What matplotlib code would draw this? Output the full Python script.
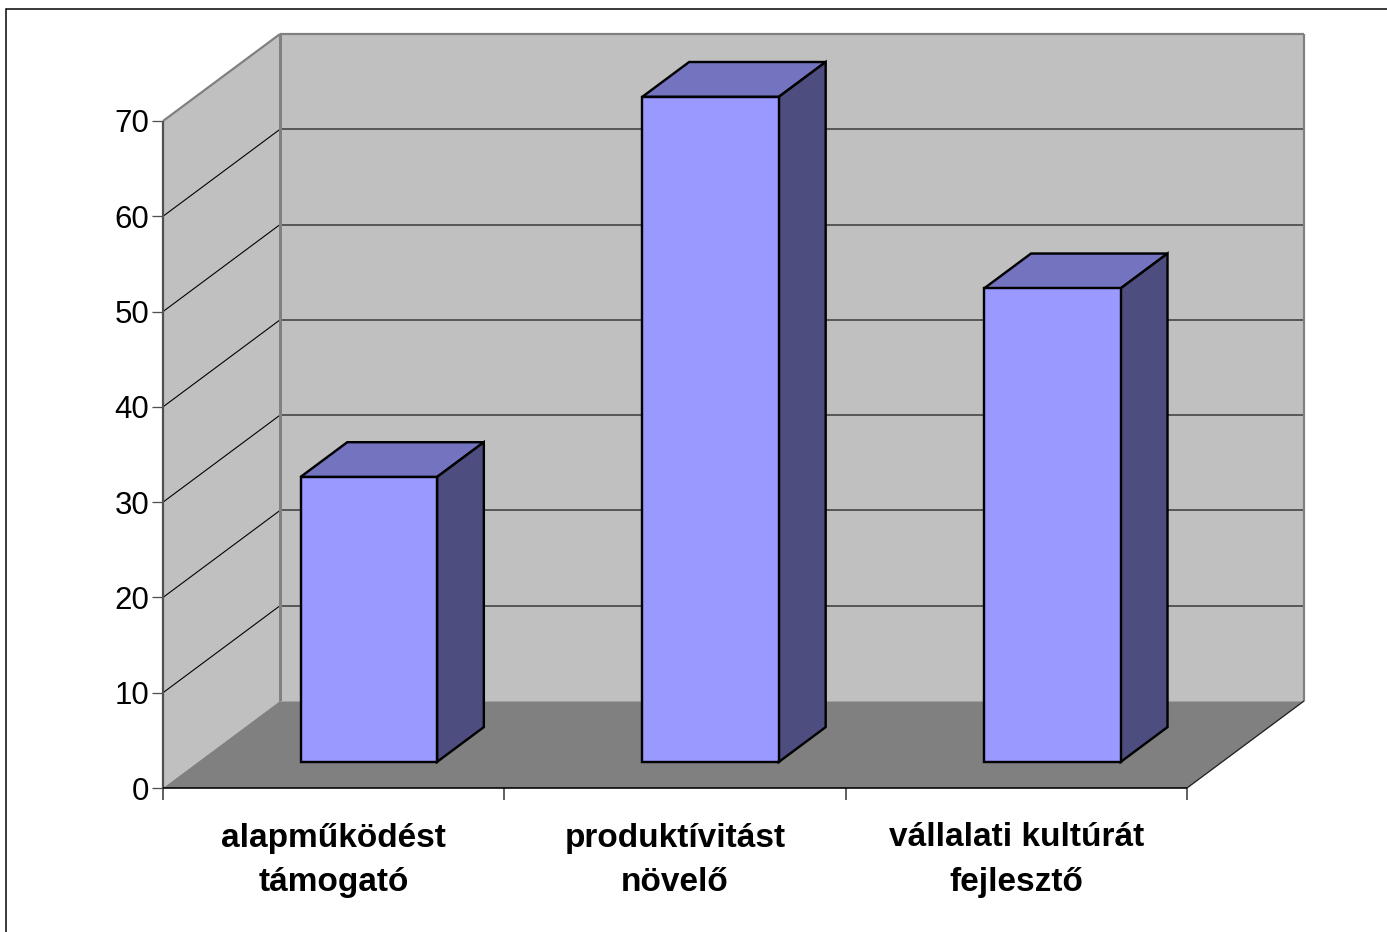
import matplotlib
matplotlib.use("Agg")
import matplotlib.pyplot as plt
from matplotlib.patches import Polygon, Rectangle

plt.rcParams['font.family'] = ['Liberation Sans', 'DejaVu Sans']

categories = ["alapműködést\ntámogató", "produktívitást\nnövelő", "vállalati kultúrát\nfejlesztő"]
values = [29.9, 69.8, 49.7]
y_ticks = [0, 10, 20, 30, 40, 50, 60, 70]

W, H = 1387, 932
PX = 0.72  # one pixel in points at dpi 100
fig = plt.figure(figsize=(W / 100, H / 100), dpi=100, facecolor='white')
fig.add_artist(Rectangle((6.0 / W, -0.01), 1.1, 1.01 - 9.0 / H, transform=fig.transFigure,
                         fill=False, edgecolor='black', linewidth=1.5 * PX))

ax = fig.add_axes([163 / W, (H - 788) / H, 1024 / W, 667 / H])
ax.set_xlim(0, 3)
ax.set_ylim(0, 70)
ax.patch.set_visible(False)
for s in ax.spines.values():
    s.set_visible(False)

# oblique depth of the chart box, in data units
DX = 117 / (1024 / 3)
DY = 87 / (667 / 70)
BAR_W = 0.400


def proj(x, y, d):
    return (x + d * DX, y + d * DY)


def poly(pts, fc, ec='none', lw=0, z=1):
    ax.add_patch(Polygon(pts, closed=True, facecolor=fc, edgecolor=ec, linewidth=lw,
                         joinstyle='miter', clip_on=False, zorder=z))


def line(a, b, c, lw, z=2):
    ax.plot([a[0], b[0]], [a[1], b[1]], color=c, linewidth=lw * PX, clip_on=False,
            solid_capstyle='butt', zorder=z)


ymax = y_ticks[-1]
xmax = len(categories)
# walls and floor
poly([proj(0, 0, 0), proj(0, ymax, 0), proj(0, ymax, 1), proj(0, 0, 1)], '#c0c0c0')
poly([proj(0, 0, 1), proj(0, ymax, 1), proj(xmax, ymax, 1), proj(xmax, 0, 1)], '#c0c0c0')
poly([proj(0, 0, 0), proj(xmax, 0, 0), proj(xmax, 0, 1), proj(0, 0, 1)], '#808080')

# gridlines
for t in y_ticks[1:-1]:
    line(proj(0, t, 0), proj(0, t, 1), '#000000', 1.1)
    line(proj(0, t, 1), proj(xmax, t, 1), '#404040', 1.6)

# wall edges
line(proj(0, ymax, 0), proj(0, ymax, 1), '#808080', 2.2)
line(proj(0, ymax, 1), proj(xmax, ymax, 1), '#808080', 2.2)
line(proj(0, 0, 1), proj(0, ymax, 1), '#808080', 3)
line(proj(xmax, 0, 1), proj(xmax, ymax, 1), '#808080', 2.2)
line(proj(0, 0, 1), proj(xmax, 0, 1), '#a0a0a0', 1)
line(proj(xmax, 0, 0), proj(xmax, 0, 1), '#202020', 1.3)
line(proj(0, 0, 0), proj(0, ymax, 0), '#505050', 2.2)
line(proj(0, 0, 0), proj(xmax, 0, 0), '#000000', 1.6)

# bars
for i, v in enumerate(values):
    x0 = i + 0.5 - BAR_W / 2 + 0.0015 * i
    x1 = x0 + BAR_W
    f, b = 0.3, 0.7
    lw = 2.4 * PX
    poly([proj(x0, v, f), proj(x1, v, f), proj(x1, v, b), proj(x0, v, b)], '#7373bf', 'black', lw, 5)
    poly([proj(x1, 0, f), proj(x1, v, f), proj(x1, v, b), proj(x1, 0, b)], '#4d4d80', 'black', lw, 5)
    poly([proj(x0, 0, f), proj(x1, 0, f), proj(x1, v, f), proj(x0, v, f)], '#9999ff', 'black', lw, 6)

# axes ticks and labels
ax.set_yticks(y_ticks)
ax.tick_params(axis='y', length=11 * PX, width=1.3 * PX, color='#505050', labelsize=22.5, pad=2, labelcolor='black')
ax.set_xticks(range(xmax + 1))
ax.set_xticklabels([])
ax.tick_params(axis='x', which='major', length=12 * PX, width=1.5 * PX, color='#303030')
for t, lab in zip(ax.xaxis.get_major_ticks(), range(xmax + 1)):
    if lab in (0, xmax):
        t.tick1line.set_color('#808080')
ax.set_xticks([i + 0.5 for i in range(xmax)], minor=True)
ax.set_xticklabels(categories, minor=True, fontsize=24, fontweight='bold', linespacing=1.56, color='black')
ax.tick_params(axis='x', which='minor', length=0, pad=34.5 * PX)

fig.savefig('out.png', dpi=100)
